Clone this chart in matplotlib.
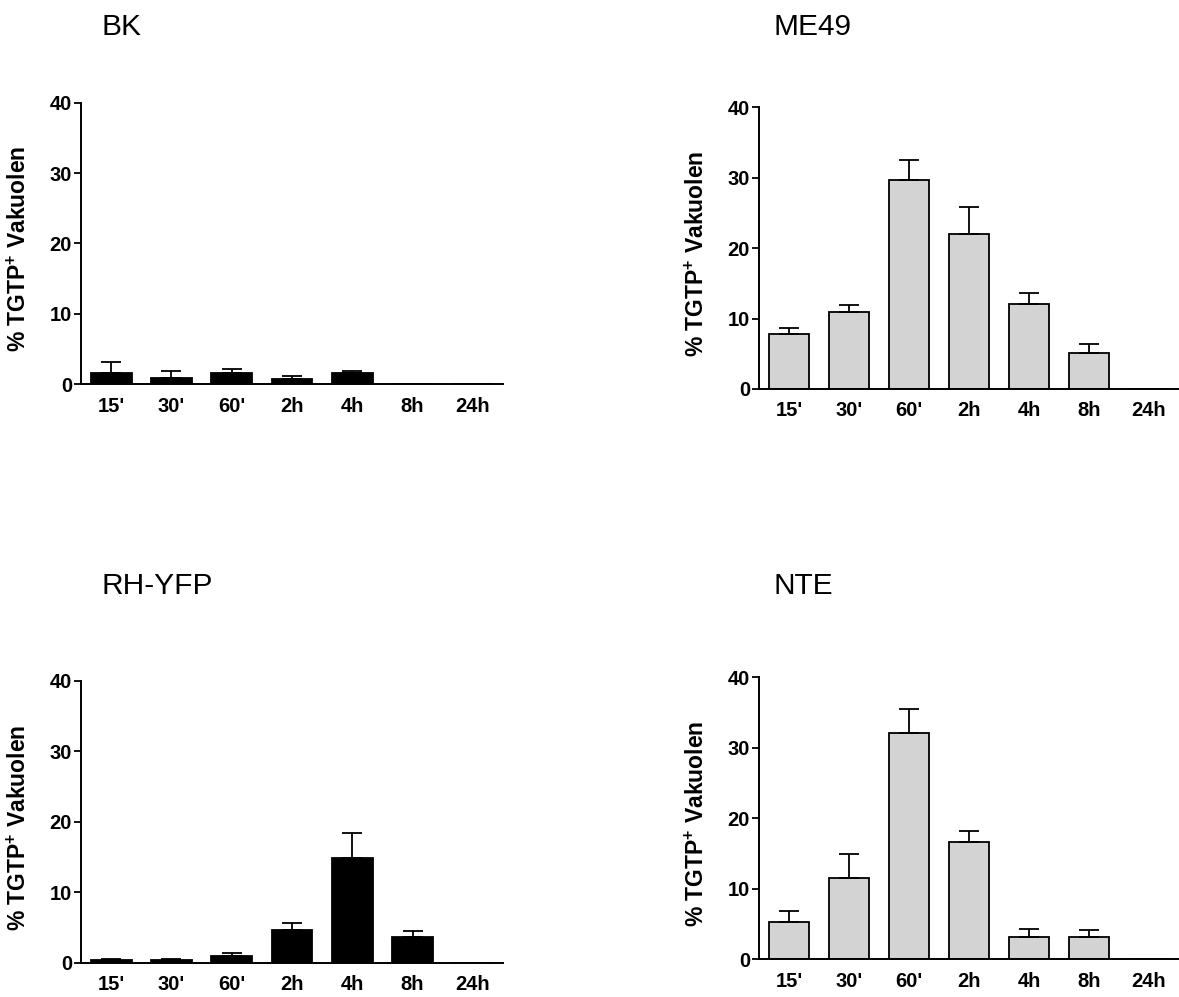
import matplotlib
matplotlib.use("Agg")
import matplotlib.pyplot as plt
import numpy as np

plt.rcParams['font.family'] = ['Liberation Sans', 'DejaVu Sans']
plt.rcParams['mathtext.fontset'] = 'custom'
plt.rcParams['mathtext.bf'] = 'Liberation Sans:bold'
plt.rcParams['mathtext.rm'] = 'Liberation Sans:bold'

categories = ["15'", "30'", "60'", "2h", "4h", "8h", "24h"]

bk_mean = [1.56, 0.95, 1.66, 0.71, 1.56, 0.0, 0.0]
bk_err = [1.56, 0.90, 0.56, 0.43, 0.29, 0.0, 0.0]

me49_mean = [7.86, 10.93, 29.63, 21.96, 12.07, 5.07, 0.0]
me49_err = [0.80, 1.00, 2.89, 3.89, 1.52, 1.37, 0.0]

rh_mean = [0.38, 0.33, 0.99, 4.63, 14.89, 3.69, 0.0]
rh_err = [0.19, 0.19, 0.43, 0.95, 3.50, 0.80, 0.0]

nte_mean = [5.25, 11.54, 32.06, 16.64, 3.22, 3.17, 0.0]
nte_err = [1.56, 3.45, 3.50, 1.56, 1.04, 0.94, 0.0]

titles = ["BK", "ME49", "RH-YFP", "NTE"]
yticks = [0, 10, 20, 30, 40]
ylabel = r"% TGTP$^{\mathbf{+}}$ Vakuolen"

W, H = 1179, 997
fig = plt.figure(figsize=(W / 100, H / 100), dpi=100)

# panel pixel boxes: left, top, right, bottom
boxes = [
    (81, 102.7, 503, 384.3),
    (759, 107.3, 1179, 389.0),
    (81, 680.7, 503, 962.7),
    (759, 677.3, 1179, 959.3),
]
title_pos = [(102, 35), (774, 35), (102, 594), (774, 594)]
means = [bk_mean, me49_mean, rh_mean, nte_mean]
errs = [bk_err, me49_err, rh_err, nte_err]
colors = ['black', '#d3d3d3', 'black', '#d3d3d3']

for i in range(4):
    l, t, r, b = boxes[i]
    ax = fig.add_axes([l / W, 1 - b / H, (r - l) / W, (b - t) / H])
    x = np.arange(len(categories))
    m = np.array(means[i])
    e = np.array(errs[i])
    ax.bar(x, m, width=0.68, color=colors[i], edgecolor='black', linewidth=1.3, zorder=2)
    mask = e > 0
    ax.errorbar(x[mask], m[mask], yerr=[np.zeros(mask.sum()), e[mask]], fmt='none',
                ecolor='black', elinewidth=1.3, capsize=7.5, capthick=1.3, zorder=3)
    ax.set_xlim(-0.5, 6.5)
    ax.set_ylim(0, 40)
    ax.set_yticks(yticks)
    ax.set_xticks(x)
    ax.set_xticklabels(categories)
    for s in ['top', 'right']:
        ax.spines[s].set_visible(False)
    for s in ['left', 'bottom']:
        ax.spines[s].set_linewidth(1.4)
    ax.tick_params(axis='y', direction='out', length=5, width=1.3, pad=1.5, labelsize=14.5)
    ax.tick_params(axis='x', length=0, pad=9, labelsize=14.5)
    for lab in ax.get_xticklabels() + ax.get_yticklabels():
        lab.set_fontweight('bold')
    ax.set_ylabel(ylabel, fontsize=16.5, fontweight='bold')
    ax.yaxis.set_label_coords(-0.12, 0.48)
    tx, ty = title_pos[i]
    fig.text(tx / W, 1 - ty / H, titles[i], fontsize=21.5, va='baseline', ha='left')

fig.savefig("out.png", dpi=100)
